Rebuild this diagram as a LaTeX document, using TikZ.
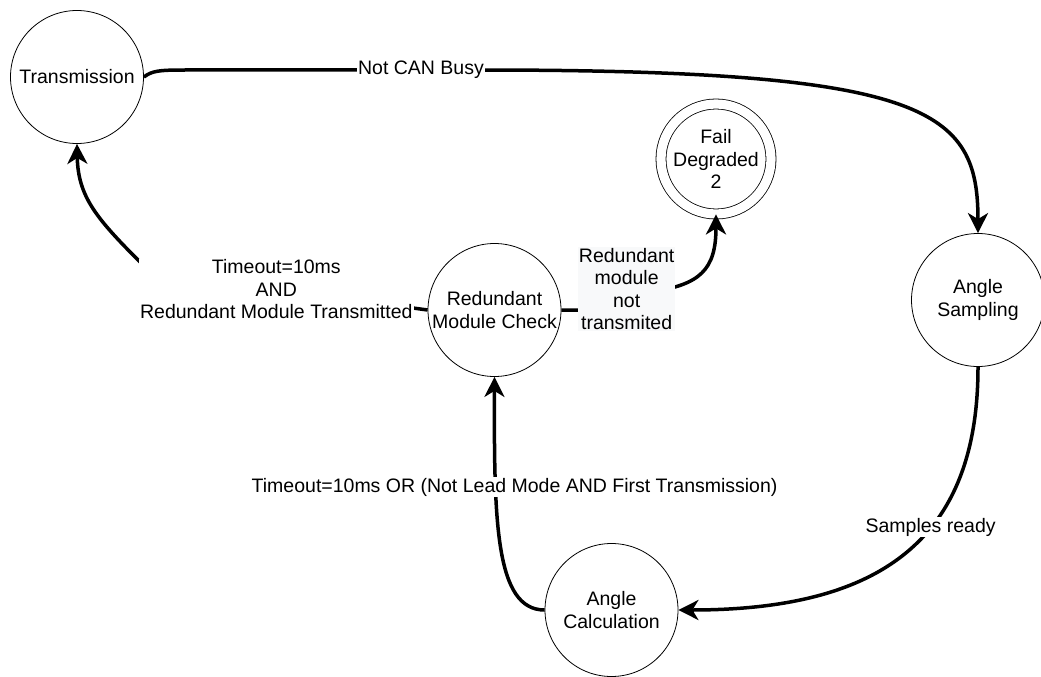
\documentclass[tikz,border=0pt]{standalone}
\usepackage{fontspec}
\setmainfont{Liberation Sans}
\usetikzlibrary{arrows.meta}
\definecolor{notegray}{RGB}{248,249,250}

\begin{document}
\begin{tikzpicture}[x=1pt,y=-1pt,
		state/.style={circle,draw,line width=0.8pt,minimum size=133pt,inner sep=0pt,align=center,font=\fontsize{19.5}{22.5}\selectfont},
		trans/.style={line width=3.5pt,-{Stealth[length=20pt,width=20pt,inset=6pt]}},
		lbl/.style={fill=white,inner sep=1pt,align=center,font=\fontsize{19.5}{22.5}\selectfont}]
	\useasboundingbox (0,0) rectangle (1041,677);
	% states
	\node[state] (trans) at (77,77) {Transmission};
	\node[state] (samp) at (978,300) {Angle\\Sampling};
	\node[state] (calc) at (611.5,610) {Angle\\Calculation};
	\node[state] (red) at (494.5,310) {Redundant\\Module Check};
	\node[state,minimum size=110pt,double,double distance=9.2pt] (fail) at (716,159) {Fail\\Degraded\\2};
	% transitions
	\draw[trans] (trans.east) .. controls (152,71) and (158,70) .. (185,70)
		-- node[lbl,pos=0.8] {Not CAN Busy} (480,70)
		.. controls (930,70) and (978,110) .. (samp.north);
	\draw[trans] (samp.south) .. controls (978,540) and (880,610)
		.. node[lbl,pos=0.4] {Samples ready} (calc.east);
	\draw[trans] (calc.west) .. controls (495,610) and (494,520)
		.. node[lbl,pos=0.71,xshift=19pt] {Timeout=10ms OR (Not Lead Mode AND First Transmission)} (red.south);
	\draw[trans] (red.east) -- node[lbl,fill=notegray,pos=0.83,yshift=21pt] {Redundant\\module\\not\\transmited} (640,310)
		-- (650,292) .. controls (700,285) and (716,270) .. (fail.south);
	\draw[trans] (red.west) -- node[lbl,pos=0.545] {Timeout=10ms\\AND\\Redundant Module Transmitted} (150,272)
		.. controls (100,222) and (78,200) .. (trans.south);
\end{tikzpicture}
\end{document}
